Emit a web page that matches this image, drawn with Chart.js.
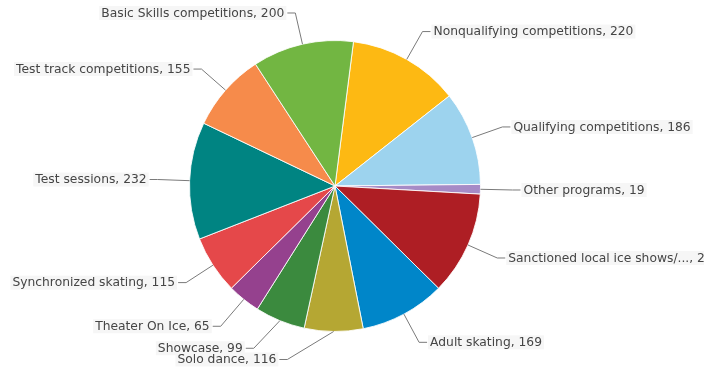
<!DOCTYPE html>
<html>
<head>
<meta charset="utf-8">
<script src="https://cdn.jsdelivr.net/npm/chart.js@4/dist/chart.umd.min.js"></script>
<style>
html,body{margin:0;padding:0;background:#fff;}
#wrap{width:704px;height:368px;position:relative;}
</style>
</head>
<body>
<div id="wrap"><canvas id="c" width="704" height="368"></canvas></div>
<script>
const categories = [
  "Nonqualifying competitions",
  "Qualifying competitions",
  "Other programs",
  "Sanctioned local ice shows/...",
  "Adult skating",
  "Solo dance",
  "Showcase",
  "Theater On Ice",
  "Synchronized skating",
  "Test sessions",
  "Test track competitions",
  "Basic Skills competitions"
];
const values = [220, 186, 19, 205, 169, 116, 99, 65, 115, 232, 155, 200];
const colors = [
  "#FDB913", "#9DD3EE", "#A68BC6", "#AE1E24", "#0086C9", "#B5A733",
  "#3B8A3E", "#95418E", "#E5484A", "#008482", "#F68B4B", "#72B642"
];

const labelPlugin = {
  id: 'outLabels',
  afterDatasetsDraw(chart, args, opts) {
    const ctx = chart.ctx;
    const meta = chart.getDatasetMeta(0);
    ctx.save();
    ctx.font = opts.font;
    ctx.textBaseline = 'middle';
    const items = [];
    meta.data.forEach((arc, i) => {
      const mid = (arc.startAngle + arc.endAngle) / 2;
      const r = arc.outerRadius;
      const cx = arc.x, cy = arc.y;
      const ex = cx + r * Math.cos(mid), ey = cy + r * Math.sin(mid);
      let bx = cx + (r + opts.offset) * Math.cos(mid);
      let by = cy + (r + opts.offset) * Math.sin(mid);
      const nd = (opts.nudge || {})[categories[i]];
      if (nd) { bx += nd[0]; by += nd[1]; }
      const right = Math.cos(mid) >= 0 && !(nd && nd[2]);
      const sgn = right ? 1 : -1;
      const hx = bx + sgn * opts.hseg;
      ctx.strokeStyle = opts.lineColor;
      ctx.lineWidth = 1;
      ctx.beginPath();
      ctx.moveTo(ex, ey);
      ctx.lineTo(bx, by);
      ctx.lineTo(hx, by);
      ctx.stroke();
      const text = categories[i] + ', ' + values[i];
      const w = ctx.measureText(text).width;
      const tx = hx + sgn * opts.gap;
      const left = right ? tx : tx - w;
      items.push({text, left, y: by, w});
    });
    ctx.fillStyle = opts.boxColor;
    items.forEach(it => ctx.fillRect(it.left - 2, it.y - 7, it.w + 4, 14));
    ctx.fillStyle = opts.color;
    ctx.textAlign = 'left';
    items.forEach(it => ctx.fillText(it.text, it.left, it.y + 0.5));
    ctx.restore();
  }
};

new Chart(document.getElementById('c'), {
  type: 'pie',
  data: {
    labels: categories,
    datasets: [{
      data: values,
      backgroundColor: colors,
      borderColor: 'rgba(255,255,255,0.85)',
      borderWidth: 1
    }]
  },
  options: {
    responsive: false,
    animation: false,
    rotation: 7.3,
    layout: { padding: { left: 0, right: 34, top: 40, bottom: 36 } },
    plugins: {
      legend: { display: false },
      tooltip: { enabled: false },
      outLabels: {
        font: '12.3px "DejaVu Sans", Verdana, sans-serif',
        color: '#454545',
        lineColor: '#7a7a7a',
        boxColor: '#f6f6f6',
        offset: 32,
        hseg: 8,
        gap: 3,
        nudge: { 'Solo dance': [-46, -4, true], 'Showcase': [-14, -2], 'Theater On Ice': [-3, 2] }
      }
    }
  },
  plugins: [labelPlugin]
});
</script>
</body>
</html>
